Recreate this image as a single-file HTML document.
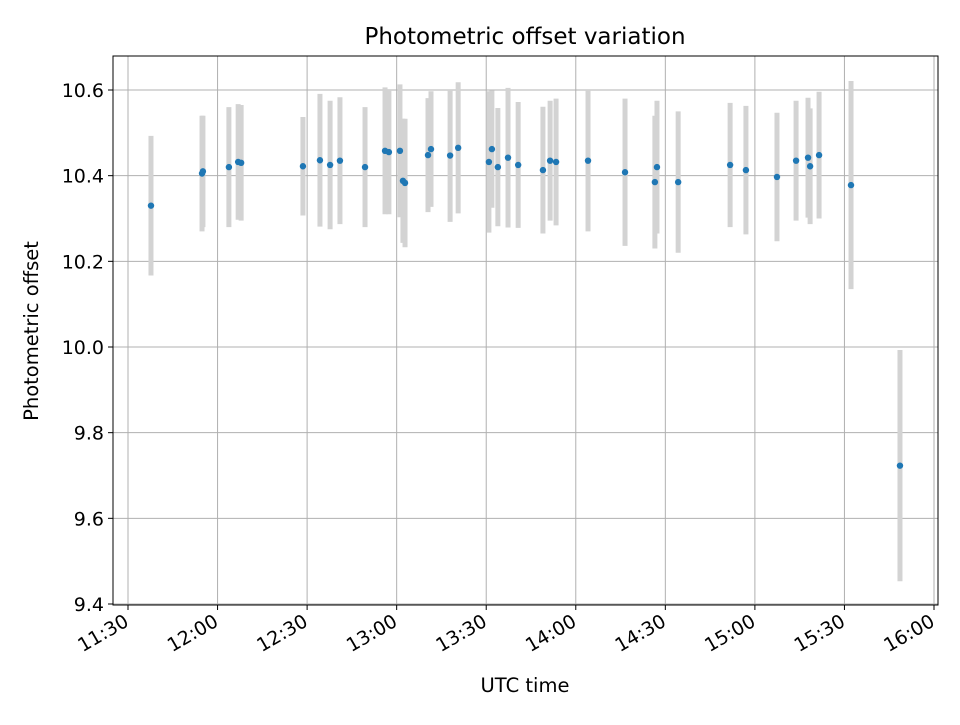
<!DOCTYPE html>
<html><head><meta charset="utf-8"><style>
body{margin:0;background:#fff;}
svg text{font-family:"DejaVu Sans","Liberation Sans",sans-serif;fill:#000;}
</style></head><body>
<svg id="chart" width="960" height="720">
<rect width="960" height="720" fill="#fff"/>
<g id="grid"></g>
<g id="bars"></g>
<g id="pts"></g>
<rect x="113" y="56" width="825" height="549" fill="none" stroke="#000" stroke-width="1"/>
<g id="axes"></g>
<text x="525" y="44" text-anchor="middle" font-size="23">Photometric offset variation</text>
<text x="525" y="692" text-anchor="middle" font-size="19.5">UTC time</text>
<text transform="translate(38,331) rotate(-90)" text-anchor="middle" font-size="19.5">Photometric offset</text>
</svg>
<script>
const times=[697.7,714.8,715.1,723.8,726.9,727.9,748.6,754.3,757.7,761.0,769.4,776.1,777.4,781.1,782.1,782.8,790.5,791.5,797.9,800.6,810.9,811.9,813.9,817.3,820.7,829.0,831.4,833.4,844.1,856.5,866.5,867.2,874.3,891.7,897.0,907.4,913.8,917.8,918.5,921.5,932.2,948.6];
const offsets=[10.33,10.405,10.41,10.42,10.432,10.43,10.422,10.436,10.425,10.435,10.42,10.458,10.455,10.458,10.388,10.383,10.448,10.462,10.447,10.465,10.432,10.462,10.42,10.442,10.425,10.413,10.435,10.432,10.435,10.408,10.385,10.42,10.385,10.425,10.413,10.397,10.435,10.442,10.422,10.448,10.378,9.723];
const errors=[0.163,0.135,0.13,0.14,0.135,0.135,0.115,0.155,0.15,0.148,0.14,0.148,0.145,0.155,0.145,0.15,0.133,0.135,0.155,0.153,0.165,0.137,0.138,0.163,0.147,0.148,0.14,0.148,0.165,0.172,0.155,0.155,0.165,0.145,0.15,0.15,0.14,0.14,0.135,0.148,0.243,0.27];
const xTicks=[690,720,750,780,810,840,870,900,930,960];
const xTickLabels=["11:30","12:00","12:30","13:00","13:30","14:00","14:30","15:00","15:30","16:00"];
const yTicks=[9.4,9.6,9.8,10.0,10.2,10.4,10.6];
const yTickLabels=["9.4","9.6","9.8","10.0","10.2","10.4","10.6"];

const X0=113,X1=938,Y0=56,Y1=605;
function sx(m){return 128+(m-690)*(806/270);}
function sy(v){return 604-(v-9.4)*(514/1.2);}
const NS="http://www.w3.org/2000/svg";
function mk(t,a,p){const e=document.createElementNS(NS,t);for(const k in a)e.setAttribute(k,a[k]);p.appendChild(e);return e;}
const grid=document.getElementById('grid'),axes=document.getElementById('axes');
xTicks.forEach((t,i)=>{
  const x=sx(t);
  const g=mk('line',{x1:x,x2:x,y1:Y0,y2:Y1,stroke:'#b0b0b0','stroke-width':1},grid);
  
  
  const tk=mk('line',{x1:x,x2:x,y1:Y1,y2:Y1+5,stroke:'#000'},axes);
  
  
  const ax=x+2,ay=Y1+20;
  const tx=mk('text',{x:ax,y:ay,'text-anchor':'end','font-size':19,transform:`rotate(-30 ${ax} ${ay})`},axes);
  tx.textContent=xTickLabels[i];
  
  
});
yTicks.forEach((t,i)=>{
  const y=sy(t);
  const g=mk('line',{x1:X0,x2:X1,y1:y,y2:y,stroke:'#b0b0b0','stroke-width':1},grid);
  
  
  const tk=mk('line',{x1:X0-5,x2:X0,y1:y,y2:y,stroke:'#000'},axes);
  
  
  const tx=mk('text',{x:X0-9,y:y+7,'text-anchor':'end','font-size':19},axes);
  tx.textContent=yTickLabels[i];
  
  
});
const bars=document.getElementById('bars'),pts=document.getElementById('pts');
times.forEach((t,i)=>{
  const x=sx(t);
  const b=mk('line',{x1:x,x2:x,y1:sy(offsets[i]+errors[i]),y2:sy(offsets[i]-errors[i]),stroke:'#d3d3d3','stroke-width':5},bars);
  
  
  const c=mk('circle',{cx:x,cy:sy(offsets[i]),r:3.2,fill:'#1f77b4'},pts);
  
  
});
</script>
</body></html>
